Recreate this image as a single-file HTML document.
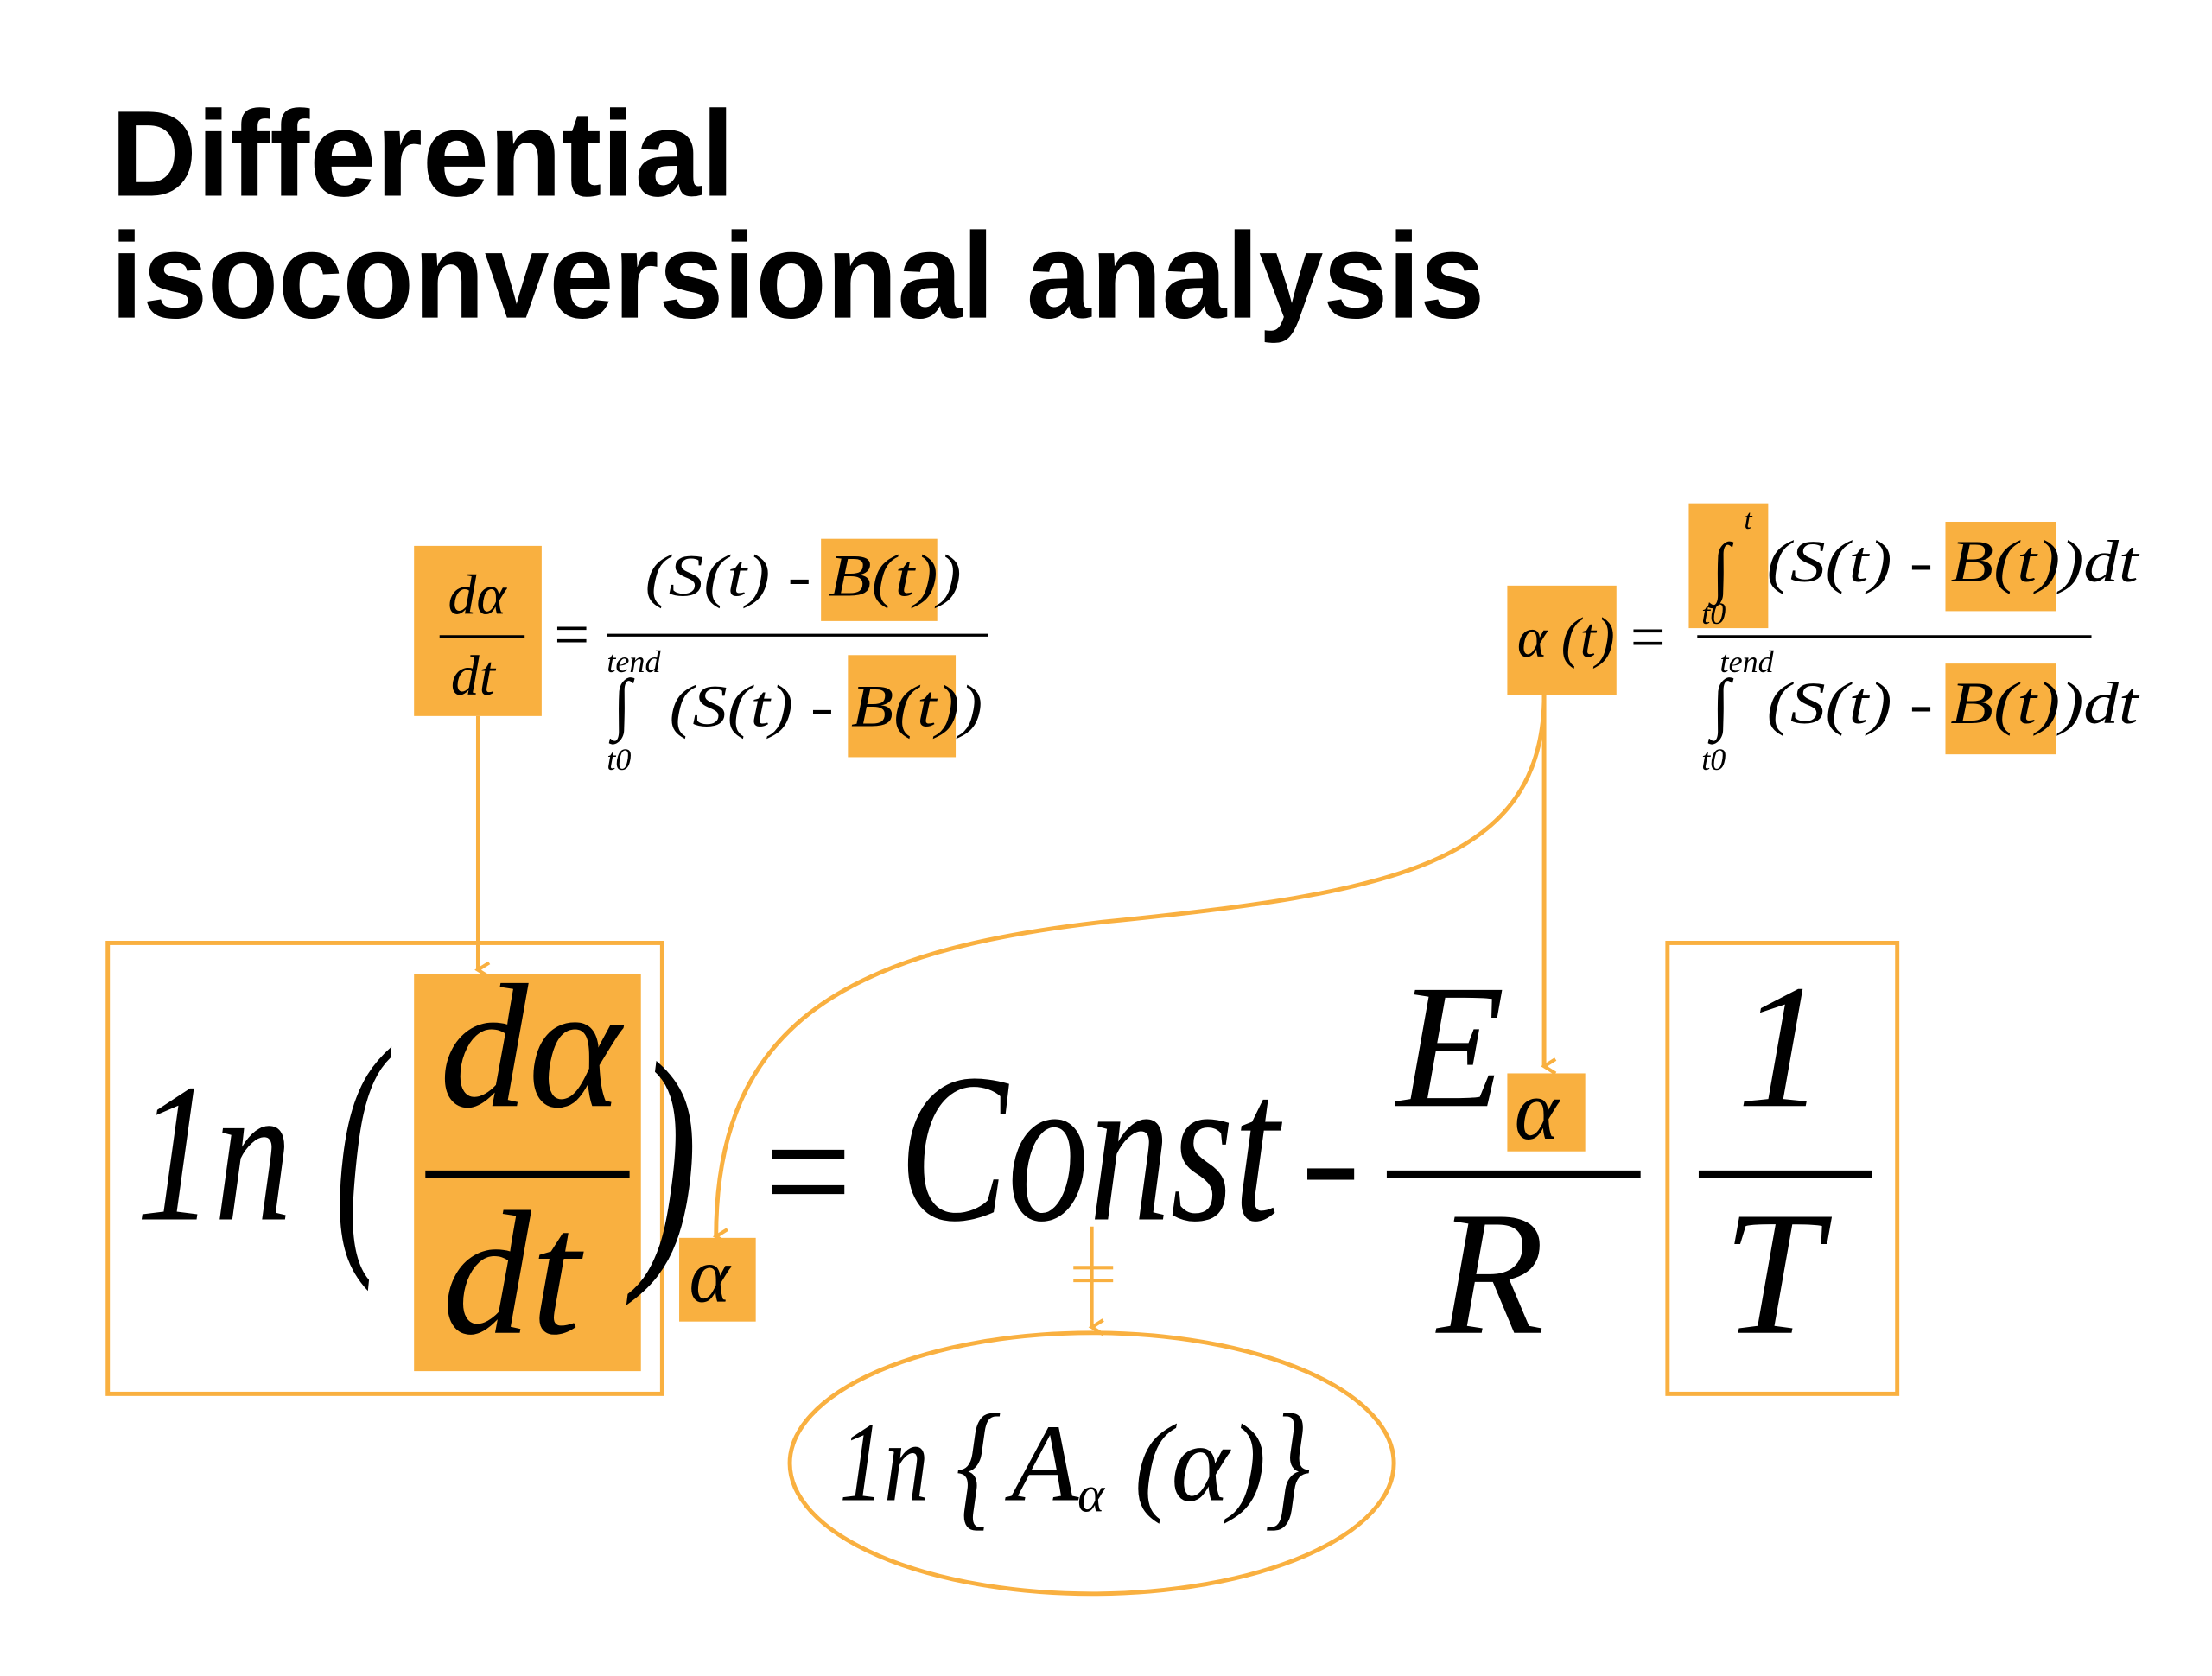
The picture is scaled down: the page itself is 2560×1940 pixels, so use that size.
<!DOCTYPE html>
<html><head><meta charset="utf-8"><style>
html,body{margin:0;padding:0;background:#fff;}
svg{display:block;}
.s{font-family:"Liberation Serif",serif;font-style:italic;fill:#000;}
.t{font-family:"Liberation Sans",sans-serif;font-weight:bold;fill:#000;}
</style></head><body>
<svg width="2560" height="1940" viewBox="0 0 1560 1182" preserveAspectRatio="none" xmlns="http://www.w3.org/2000/svg">
<defs><marker id="a" markerWidth="14" markerHeight="14" refX="7" refY="10" orient="auto" markerUnits="userSpaceOnUse"><path d="M2,2 L7,10 L12,2" fill="none" stroke="#F9B040" stroke-width="2.5"/></marker>
<marker id="b" markerWidth="14" markerHeight="14" refX="7" refY="10" orient="auto" markerUnits="userSpaceOnUse"><path d="M2,2 L7,10 L12,2" fill="none" stroke="#F9B040" stroke-width="2.5"/></marker></defs>
<rect width="1560" height="1182" fill="#fff"/>
<text class="t" x="78" y="138" font-size="86" textLength="440" lengthAdjust="spacingAndGlyphs">Differential</text>
<text class="t" x="78" y="224" font-size="86" textLength="969" lengthAdjust="spacingAndGlyphs">isoconversional analysis</text>

<!-- top-left formula -->
<rect x="292" y="385" width="90" height="120" fill="#F9B040"/>
<rect x="579" y="380" width="82" height="58" fill="#F9B040"/>
<rect x="598" y="462" width="76" height="72" fill="#F9B040"/>
<text class="s" x="316" y="433" font-size="40">dα</text>
<line x1="310" y1="449" x2="370" y2="449" stroke="#000" stroke-width="2"/>
<text class="s" x="318" y="490" font-size="40">dt</text>
<text class="s" x="388" y="462" font-size="44" font-style="normal">=</text>
<text class="s" x="455" y="420" font-size="42" textLength="223" lengthAdjust="spacingAndGlyphs">(S(t) - B(t))</text>
<line x1="428" y1="448" x2="697" y2="448" stroke="#000" stroke-width="2"/>
<text class="s" x="428" y="474" font-size="22">tend</text>
<text class="s" x="432" y="512" font-size="48">∫</text>
<text class="s" x="472" y="512" font-size="42" textLength="221" lengthAdjust="spacingAndGlyphs">(S(t) - B(t))</text>
<text class="s" x="428" y="543" font-size="22">t0</text>
<line x1="337" y1="505" x2="337" y2="684" stroke="#F9B040" stroke-width="2.5" marker-end="url(#a)"/>

<!-- top-right formula -->
<rect x="1063" y="413" width="77" height="77" fill="#F9B040"/>
<rect x="1191" y="355" width="56" height="88" fill="#F9B040"/>
<rect x="1372" y="368" width="78" height="63" fill="#F9B040"/>
<rect x="1372" y="468" width="78" height="64" fill="#F9B040"/>
<text class="s" x="1070" y="463" font-size="40">α (t)</text>
<text class="s" x="1147" y="464" font-size="44" font-style="normal">=</text>
<text class="s" x="1230" y="373" font-size="20">t</text>
<text class="s" x="1207" y="416" font-size="48">∫</text>
<text class="s" x="1200" y="440" font-size="22">t0</text>
<text class="s" x="1246" y="410" font-size="42" textLength="262" lengthAdjust="spacingAndGlyphs">(S(t) - B(t))dt</text>
<line x1="1197" y1="449" x2="1475" y2="449" stroke="#000" stroke-width="2"/>
<text class="s" x="1213" y="474" font-size="22">tend</text>
<text class="s" x="1207" y="512" font-size="48">∫</text>
<text class="s" x="1246" y="510" font-size="42" textLength="262" lengthAdjust="spacingAndGlyphs">(S(t) - B(t))dt</text>
<text class="s" x="1200" y="543" font-size="22">t0</text>
<line x1="1089" y1="490" x2="1089" y2="752" stroke="#F9B040" stroke-width="3" marker-end="url(#b)"/>
<path d="M1089,490 C1089,610 980,630 780,650 C600,670 505,720 505,872" fill="none" stroke="#F9B040" stroke-width="3" marker-end="url(#b)"/>

<!-- main equation -->
<rect x="76" y="665" width="391" height="318" fill="none" stroke="#F9B040" stroke-width="3"/>
<rect x="292" y="687" width="160" height="280" fill="#F9B040"/>
<rect x="479" y="873" width="54" height="59" fill="#F9B040"/>
<rect x="1063" y="757" width="55" height="55" fill="#F9B040"/>
<rect x="1176" y="665" width="162" height="318" fill="none" stroke="#F9B040" stroke-width="3"/>
<text class="s" x="96" y="860" font-size="140" textLength="110" lengthAdjust="spacingAndGlyphs">1n</text>
<text class="s" font-size="190" transform="translate(236,870) scale(0.55,1)">(</text>
<text class="s" font-size="190" transform="translate(448,880) scale(0.7,1)">)</text>
<text class="s" x="310" y="780" font-size="125">dα</text>
<line x1="300" y1="828" x2="444" y2="828" stroke="#000" stroke-width="5"/>
<text class="s" x="312" y="940" font-size="125">dt</text>
<text class="s" x="486" y="918" font-size="55">α</text>
<text class="s" x="532" y="868" font-size="125" font-style="normal" textLength="74" lengthAdjust="spacingAndGlyphs">=</text>
<text class="s" x="634" y="860" font-size="150" textLength="268" lengthAdjust="spacingAndGlyphs">Const</text>
<rect x="922" y="824" width="33" height="8" fill="#000"/>
<text class="s" x="985" y="780" font-size="125">E</text>
<text class="s" x="1068" y="803" font-size="60">α</text>
<line x1="978" y1="828" x2="1157" y2="828" stroke="#000" stroke-width="5"/>
<text class="s" x="1013" y="940" font-size="125">R</text>
<text class="s" x="1225" y="780" font-size="125">1</text>
<line x1="1198" y1="828" x2="1320" y2="828" stroke="#000" stroke-width="5"/>
<text class="s" x="1215" y="940" font-size="125">T</text>

<line x1="757" y1="894" x2="785" y2="894" stroke="#F9B040" stroke-width="2.5"/>
<line x1="757" y1="903" x2="785" y2="903" stroke="#F9B040" stroke-width="2.5"/>
<line x1="770" y1="865" x2="770" y2="936" stroke="#F9B040" stroke-width="2.5" marker-end="url(#a)"/>
<ellipse cx="770" cy="1032" rx="213" ry="92" fill="none" stroke="#F9B040" stroke-width="3"/>
<text class="s" x="592" y="1058" font-size="80" textLength="63" lengthAdjust="spacingAndGlyphs">1n</text>
<text class="s" font-size="100" transform="translate(674,1066) scale(0.8,1)">{</text>
<text class="s" x="713" y="1058" font-size="78">A</text>
<text class="s" x="760" y="1066" font-size="36">α</text>
<text class="s" x="800" y="1058" font-size="78">(α)</text>
<text class="s" font-size="100" transform="translate(892,1066) scale(0.8,1)">}</text>
</svg>
</body></html>
